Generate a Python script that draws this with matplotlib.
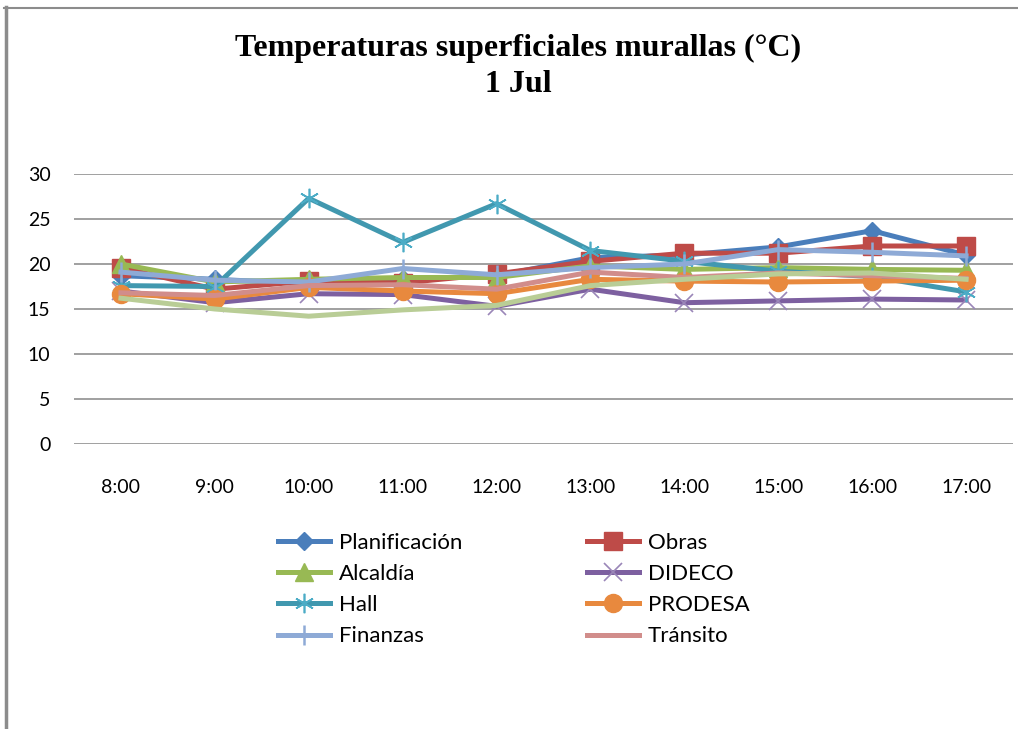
"""
Temperaturas superficiales murallas (°C) - 1 Jul
"""

import matplotlib
matplotlib.use('Agg')
import matplotlib.pyplot as plt
from matplotlib.lines import Line2D

plt.rcParams['font.family'] = ['Lato', 'DejaVu Sans']

# datos
horas = ['8:00', '9:00', '10:00', '11:00', '12:00', '13:00', '14:00', '15:00', '16:00', '17:00']

planificacion = [18.7, 18.3, 17.8, 18.3, 18.7, 20.7, 21.0, 21.9, 23.7, 21.0]
obras = [19.6, 17.2, 18.1, 17.9, 18.9, 20.3, 21.2, 21.2, 22.0, 22.0]
alcaldia = [20.0, 18.0, 18.3, 18.5, 18.5, 19.8, 19.4, 19.6, 19.4, 19.3]
dideco = [17.0, 15.7, 16.7, 16.6, 15.3, 17.2, 15.7, 15.9, 16.1, 16.0]
hall = [17.6, 17.5, 27.3, 22.4, 26.7, 21.5, 20.3, 19.2, 18.6, 16.9]
prodesa = [16.7, 16.1, 17.4, 17.0, 16.7, 18.3, 18.1, 18.0, 18.1, 18.2]
finanzas = [19.1, 18.2, 18.0, 19.5, 18.8, 19.6, 20.0, 21.6, 21.3, 20.9]
transito = [16.8, 16.5, 17.6, 17.7, 17.2, 19.1, 18.5, 19.0, 18.7, 18.4]
serie9 = [16.2, 15.0, 14.2, 14.9, 15.4, 17.6, 18.3, 18.9, 19.0, 18.3]

fig = plt.figure(figsize=(10.18, 7.29), dpi=100)
ax = fig.add_axes([74 / 1018, 1 - 444 / 729, 939 / 1018, 270 / 729])

x = range(len(horas))
lw = 3.6

l1, = ax.plot(x, planificacion, color='#4A7EBB', lw=lw, marker='D', ms=9.5,
              mfc='#4A7EBB', mec='#4A7EBB', label='Planificación')
l2, = ax.plot(x, obras, color='#BE4B48', lw=lw, marker='s', ms=13,
              mfc='#BE4B48', mec='#BE4B48', label='Obras')
l3, = ax.plot(x, alcaldia, color='#98B954', lw=lw, marker='^', ms=13,
              mfc='#98B954', mec='#98B954', label='Alcaldía')
l4, = ax.plot(x, dideco, color='#7D60A0', lw=lw, marker='x', ms=13, mew=1.2,
              mec='#9A86B8', label='DIDECO')
l5, = ax.plot(x, hall, color='#4198AF', lw=lw, marker=(6, 2, 0), ms=14, mew=1.2,
              mec='#4BACC6', label='Hall')
l6, = ax.plot(x, prodesa, color='#E8893E', lw=lw, marker='o', ms=13,
              mfc='#E8893E', mec='#E8893E', label='PRODESA')
l7, = ax.plot(x, finanzas, color='#8EAAD6', lw=lw, marker='|', ms=15, mew=1.8,
              mec='#8EAAD6', label='Finanzas')
l8, = ax.plot(x, transito, color='#D18D8B', lw=lw, label='Tránsito')
ax.plot(x, serie9, color='#B9CD96', lw=lw)

ax.set_xlim(-0.5, len(horas) - 0.5)
ax.set_ylim(0, 30)
ax.set_yticks(range(0, 31, 5))
ax.set_xticks(list(x))
ax.set_xticklabels(horas)
ax.grid(axis='y', color='#868686', lw=1.1)
ax.set_axisbelow(True)
for s in ax.spines.values():
    s.set_visible(False)
ax.tick_params(axis='both', length=0, labelsize=14, colors='#000000')
ax.tick_params(axis='x', pad=25)
ax.tick_params(axis='y', pad=17)

# título
fig.text(518 / 1018, 1 - 48 / 729, 'Temperaturas superficiales murallas (°C)',
         ha='center', va='center', fontsize=23, fontweight='bold',
         family=['Liberation Serif', 'DejaVu Serif'])
fig.text(518 / 1018, 1 - 85 / 729, '1 Jul', ha='center', va='center',
         fontsize=23, fontweight='bold', family=['Liberation Serif', 'DejaVu Serif'])

# leyenda (orden por filas como en Excel)
handles = [l1, l3, l5, l7, l2, l4, l6, l8]
fig.legend(handles=handles, labels=[h.get_label() for h in handles], ncol=2,
           loc='upper left', bbox_to_anchor=(278 / 1018, 1 - 533 / 729),
           frameon=False, fontsize=16, handlelength=2.35, handletextpad=0.4,
           columnspacing=5.6, labelspacing=0.5, borderpad=0, borderaxespad=0)

# borde del área del gráfico
fig.add_artist(Line2D([5.5 / 1018, 5.5 / 1018], [0, 1 - 7 / 729], color='#8C8C8C', lw=2.5))
fig.add_artist(Line2D([4 / 1018, 1], [1 - 7.5 / 729, 1 - 7.5 / 729], color='#8C8C8C', lw=1.5))

fig.savefig('out.png', dpi=100, facecolor='white')
